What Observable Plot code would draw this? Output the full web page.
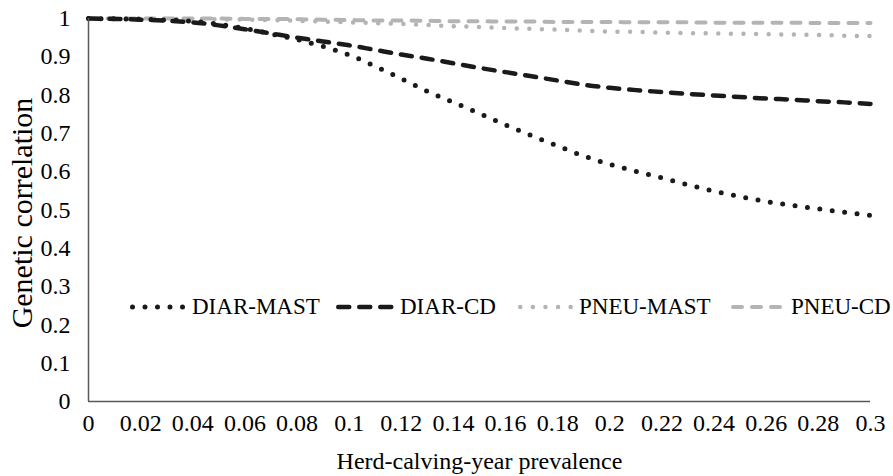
<!DOCTYPE html>
<html>
<head>
<meta charset="utf-8">
<script src="https://cdn.jsdelivr.net/npm/d3@7"></script>
<script src="https://cdn.jsdelivr.net/npm/@observablehq/plot@0.6"></script>
<style>
  body { margin: 0; background: #fff; }
  #wrap { position: relative; width: 893px; height: 476px; font-family: "Liberation Serif", Tinos, "Times New Roman", Times, "Nimbus Roman", FreeSerif, "Noto Serif", "DejaVu Serif", serif; }
  #wrap svg, #wrap svg text { font-family: inherit !important; }
  .legend { position: absolute; top: 292px; left: 0; width: 893px; height: 30px; color: #000; }
  .item { position: absolute; top: 0; display: flex; align-items: center; font-size: 23px; white-space: nowrap; }
  .item svg { display: block; margin-right: 4px; }
</style>
</head>
<body>
<div id="wrap"></div>
<script>
const prevalence = [0.00,0.01,0.02,0.03,0.04,0.05,0.06,0.07,0.08,0.09,0.10,0.11,0.12,0.13,0.14,0.15,0.16,0.17,0.18,0.19,0.20,0.21,0.22,0.23,0.24,0.25,0.26,0.27,0.28,0.29,0.30];
const diarMast = [1.000,0.999,0.998,0.996,0.993,0.985,0.974,0.960,0.945,0.927,0.905,0.875,0.843,0.810,0.781,0.752,0.722,0.694,0.667,0.641,0.619,0.601,0.584,0.566,0.549,0.535,0.522,0.512,0.503,0.494,0.486];
const diarCd = [1.000,0.999,0.997,0.994,0.990,0.982,0.972,0.961,0.950,0.940,0.930,0.918,0.906,0.895,0.883,0.871,0.860,0.849,0.838,0.827,0.819,0.813,0.808,0.803,0.799,0.795,0.791,0.788,0.784,0.781,0.777];
const pneuMast = [1.000,1.000,1.000,0.999,0.999,0.998,0.997,0.996,0.994,0.992,0.990,0.988,0.986,0.983,0.980,0.978,0.975,0.973,0.971,0.968,0.966,0.965,0.963,0.962,0.961,0.960,0.959,0.958,0.957,0.955,0.954];
const pneuCd = [1.000,1.000,1.000,1.000,1.000,1.000,0.999,0.999,0.998,0.997,0.996,0.995,0.995,0.994,0.993,0.993,0.992,0.992,0.991,0.991,0.991,0.990,0.990,0.990,0.989,0.989,0.989,0.989,0.988,0.988,0.988];

const seriesNames = ["DIAR-MAST", "DIAR-CD", "PNEU-MAST", "PNEU-CD"];
const xTicks = [0,0.02,0.04,0.06,0.08,0.1,0.12,0.14,0.16,0.18,0.2,0.22,0.24,0.26,0.28,0.3];
const yTicks = [0,0.1,0.2,0.3,0.4,0.5,0.6,0.7,0.8,0.9,1];
const xTitle = "Herd-calving-year prevalence";
const yTitle = "Genetic correlation";

const seriesValues = [diarMast, diarCd, pneuMast, pneuCd];
const styles = {
  "DIAR-MAST": {stroke: "#1a1a1a", strokeWidth: 5, strokeDasharray: "0 12.5"},
  "DIAR-CD": {stroke: "#1a1a1a", strokeWidth: 4.5, strokeDasharray: "11 10"},
  "PNEU-MAST": {stroke: "#b4b4b4", strokeWidth: 4.5, strokeDasharray: "0 12.6"},
  "PNEU-CD": {stroke: "#b4b4b4", strokeWidth: 4, strokeDasharray: "9 10"}
};

const rows = seriesNames.map((name, i) =>
  prevalence.map((p, j) => ({x: p, y: seriesValues[i][j], series: name}))
);

const drawOrder = [3, 2, 1, 0];
const lineMarks = drawOrder.map(i => Plot.line(rows[i], {
  x: "x", y: "y", curve: "monotone-x", strokeLinecap: "round", strokeLinejoin: "round",
  ...styles[seriesNames[i]]
}));

const fmt = d => String(+(+d).toFixed(2));

const chart = Plot.plot({
  width: 893,
  height: 476,
  marginLeft: 88,
  marginRight: 23,
  marginTop: 18,
  marginBottom: 75,
  style: {color: "#000", background: "#fff", overflow: "visible"},
  x: {domain: [0, 0.3]},
  y: {domain: [0, 1]},
  marks: [
    Plot.axisX({ticks: xTicks, tickSize: 0, tickPadding: 12, tickFormat: fmt, fontSize: 24, label: null}),
    Plot.axisY({ticks: yTicks, tickSize: 0, tickPadding: 18, tickFormat: fmt, fontSize: 24, label: null}),
    Plot.text([xTitle], {text: d => d, frameAnchor: "bottom", textAnchor: "middle", lineAnchor: "middle", dy: 60, fontSize: 24, fill: "#000"}),
    Plot.text([yTitle], {text: d => d, frameAnchor: "left", textAnchor: "middle", lineAnchor: "middle", rotate: -90, dx: -66, dy: 3, fontSize: 30, fill: "#000"}),
    ...lineMarks,
    Plot.ruleX([0], {stroke: "#595959", strokeWidth: 1.5}),
    Plot.ruleY([0], {stroke: "#595959", strokeWidth: 1.5})
  ]
});

const wrap = document.getElementById("wrap");
wrap.appendChild(chart);

// legend overlay
const legend = document.createElement("div");
legend.className = "legend";
const legendLeft = [130, 336, 518, 731];
const sampleW = [58, 60, 57, 56];
seriesNames.forEach((name, i) => {
  const s = styles[name];
  const item = document.createElement("div");
  item.className = "item";
  item.style.left = legendLeft[i] + "px";
  const w = sampleW[i];
  const svgNS = "http://www.w3.org/2000/svg";
  const svg = document.createElementNS(svgNS, "svg");
  svg.setAttribute("width", w);
  svg.setAttribute("height", 30);
  const ln = document.createElementNS(svgNS, "line");
  const cap = s.strokeWidth / 2;
  ln.setAttribute("x1", cap);
  ln.setAttribute("x2", w - cap);
  ln.setAttribute("y1", 15);
  ln.setAttribute("y2", 15);
  ln.setAttribute("stroke", s.stroke);
  ln.setAttribute("stroke-width", s.strokeWidth);
  ln.setAttribute("stroke-dasharray", s.strokeDasharray);
  ln.setAttribute("stroke-linecap", "round");
  svg.appendChild(ln);
  item.appendChild(svg);
  const span = document.createElement("span");
  span.textContent = name;
  item.appendChild(span);
  legend.appendChild(item);
});
wrap.appendChild(legend);
</script>
</body>
</html>
